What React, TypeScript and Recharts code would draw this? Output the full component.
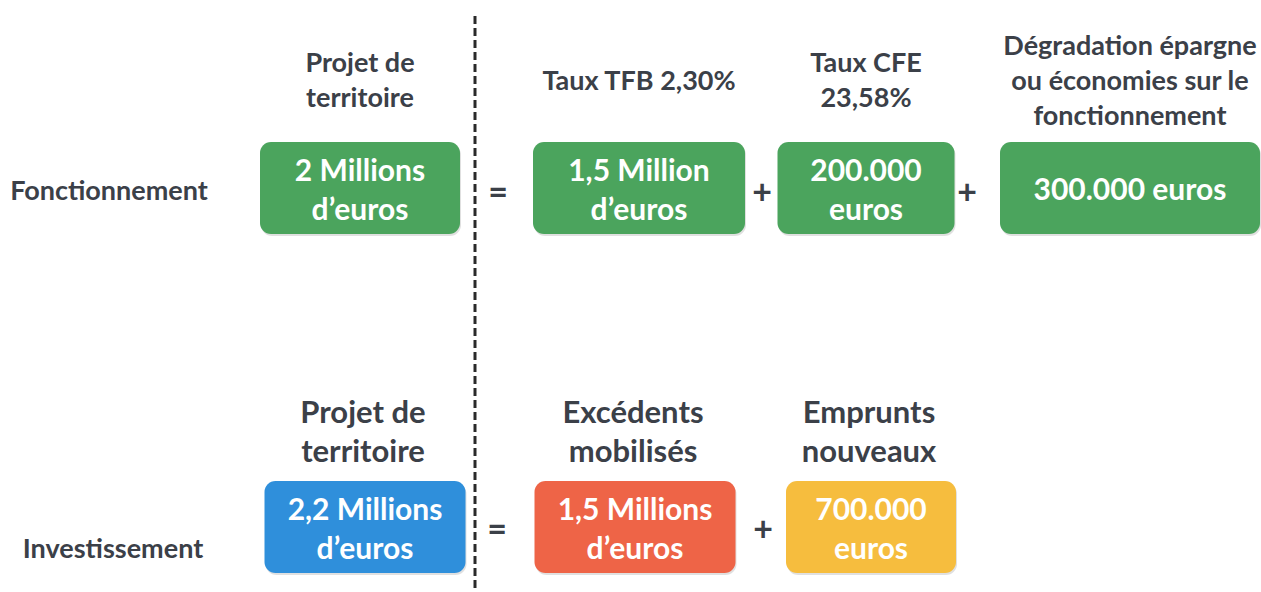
import { ScatterChart, Scatter, XAxis, YAxis, ReferenceLine } from 'recharts'

// Texts of the diagram
const ROW_LABELS = ['Fonctionnement', 'Investissement']

const HEADERS_ROW1 = [
  ['Projet de', 'territoire'],
  ['Taux TFB 2,30%'],
  ['Taux CFE', '23,58%'],
  ['Dégradation épargne', 'ou économies sur le', 'fonctionnement'],
]
const VALUES_ROW1 = [
  ['2 Millions', 'd’euros'],
  ['1,5 Million', 'd’euros'],
  ['200.000', 'euros'],
  ['300.000 euros'],
]
const OPERATORS_ROW1 = ['=', '+', '+']

const HEADERS_ROW2 = [
  ['Projet de', 'territoire'],
  ['Excédents', 'mobilisés'],
  ['Emprunts', 'nouveaux'],
]
const VALUES_ROW2 = [
  ['2,2 Millions', 'd’euros'],
  ['1,5 Millions', 'd’euros'],
  ['700.000', 'euros'],
]
const OPERATORS_ROW2 = ['=', '+']

// Layout (diagram units = pixels of the 1261x592 canvas)
const W = 1261
const H = 592
const COL_X_ROW1 = [360, 639, 866, 1130]
const BOX_W_ROW1 = [200, 212, 177, 260]
const OP_X_ROW1 = [498, 762, 967]
const COL_X_ROW2 = [365, 635, 871]
const BOX_W_ROW2 = [201, 201, 170]
const OP_X_ROW2 = [497, 763]
const ROW_Y = [188, 527]
const HEADER_Y = [79, 430]
const LABEL_POS = [{ x: 109, y: 189 }, { x: 113, y: 547 }]
const DIVIDER_X = 475

const GREEN = '#4ba45d'
const BOX_COLORS_ROW2 = ['#2f8fdb', '#ee6447', '#f6bd3e']
const TEXT = '#3b4048'
const FONT = 'Lato, "Open Sans", sans-serif'

type Pt = { x: number; y: number; lines: string[]; w?: number; color?: string }

const boxes: Pt[] = [
  ...VALUES_ROW1.map((lines, i) => ({ x: COL_X_ROW1[i], y: ROW_Y[0], lines, w: BOX_W_ROW1[i], color: GREEN })),
  ...VALUES_ROW2.map((lines, i) => ({ x: COL_X_ROW2[i], y: ROW_Y[1], lines, w: BOX_W_ROW2[i], color: BOX_COLORS_ROW2[i] })),
]
const headers1: Pt[] = HEADERS_ROW1.map((lines, i) => ({ x: COL_X_ROW1[i], y: HEADER_Y[0], lines }))
const headers2: Pt[] = HEADERS_ROW2.map((lines, i) => ({ x: COL_X_ROW2[i] - 2, y: HEADER_Y[1], lines }))
const ops: Pt[] = [
  ...OPERATORS_ROW1.map((o, i) => ({ x: OP_X_ROW1[i], y: ROW_Y[0] + 2, lines: [o] })),
  ...OPERATORS_ROW2.map((o, i) => ({ x: OP_X_ROW2[i], y: ROW_Y[1], lines: [o] })),
]
const rowLabels: Pt[] = ROW_LABELS.map((l, i) => ({ ...LABEL_POS[i], lines: [l] }))

const Lines = ({ cx, cy, lines, size, lh, fill }: any) => (
  <text
    x={cx}
    textAnchor="middle"
    fontFamily={FONT}
    fontWeight={700}
    fontSize={size}
    fill={fill}
  >
    {lines.map((l: string, i: number) => (
      <tspan key={i} x={cx} y={cy + (i - (lines.length - 1) / 2) * lh} dominantBaseline="central">
        {l}
      </tspan>
    ))}
  </text>
)

const BoxShape = (props: any) => {
  const { cx, cy, payload } = props
  const w = payload.w
  const h = 92
  return (
    <g>
      <rect x={cx - w / 2 + 1} y={cy - h / 2 + 2} width={w} height={h} rx={11} fill="rgba(0,0,0,0.12)" />
      <rect x={cx - w / 2} y={cy - h / 2} width={w} height={h} rx={11} fill={payload.color} />
      <Lines cx={cx} cy={cy} lines={payload.lines} size={30} lh={39} fill="#ffffff" />
    </g>
  )
}

const HeaderShape1 = (p: any) => <Lines cx={p.cx} cy={p.cy} lines={p.payload.lines} size={27} lh={35} fill={TEXT} />
const HeaderShape2 = (p: any) => <Lines cx={p.cx} cy={p.cy} lines={p.payload.lines} size={31} lh={39} fill={TEXT} />
const OpShape = (p: any) => <Lines cx={p.cx} cy={p.cy} lines={p.payload.lines} size={34} lh={30} fill={TEXT} />
const LabelShape = (p: any) => <Lines cx={p.cx} cy={p.cy} lines={p.payload.lines} size={27} lh={24} fill={TEXT} />

export default function App() {
  return (
    <div style={{ position: 'absolute', left: 0, top: 0, width: W, height: H, background: '#fff' }}>
      <ScatterChart width={W} height={H} margin={{ top: 0, right: 0, bottom: 0, left: 0 }}>
        <XAxis type="number" dataKey="x" domain={[0, W]} hide />
        <YAxis type="number" dataKey="y" domain={[0, H]} reversed hide />
        <ReferenceLine
          segment={[{ x: DIVIDER_X, y: 16 }, { x: DIVIDER_X, y: H }]}
          stroke="#2a2a2a"
          strokeWidth={3}
          strokeDasharray="8 4"
        />
        <Scatter data={boxes} shape={BoxShape} isAnimationActive={false} />
        <Scatter data={headers1} shape={HeaderShape1} isAnimationActive={false} />
        <Scatter data={headers2} shape={HeaderShape2} isAnimationActive={false} />
        <Scatter data={ops} shape={OpShape} isAnimationActive={false} />
        <Scatter data={rowLabels} shape={LabelShape} isAnimationActive={false} />
      </ScatterChart>
    </div>
  )
}
